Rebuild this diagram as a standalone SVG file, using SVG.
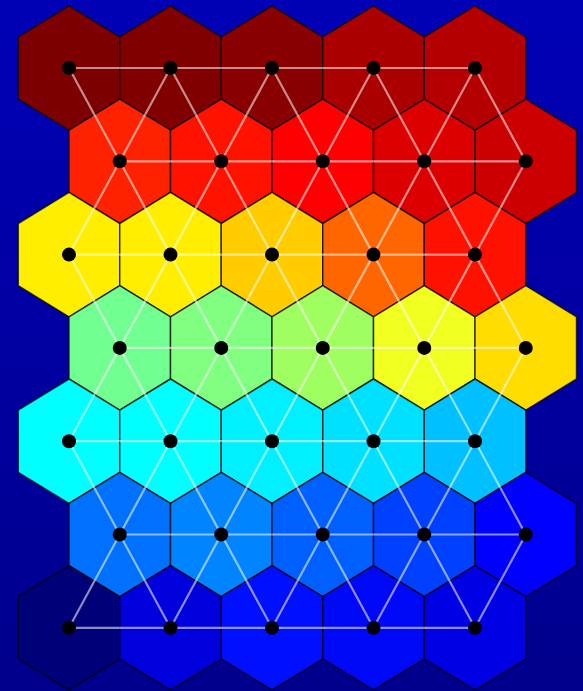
<svg xmlns="http://www.w3.org/2000/svg" xmlns:xlink="http://www.w3.org/1999/xlink" width="583" height="691" viewBox="0 0 583 691">
<defs>
<linearGradient id="bg" x1="0" y1="0" x2="0" y2="1">
<stop offset="0" stop-color="#0000b6"/>
<stop offset="1" stop-color="#00008c"/>
</linearGradient>
<polygon id="hex" points="0,-62.2 50.75,-31.1 50.75,31.1 0,62.2 -50.75,31.1 -50.75,-31.1"/>
<circle id="dot" r="7"/>
</defs>
<style>
.cell use{stroke:#000;stroke-opacity:0.7;stroke-width:1.5}
.conn path{fill:none;stroke:#fff;stroke-opacity:0.55;stroke-width:2.2}
.dots use{fill:#000}
</style>
<rect width="583" height="691" fill="url(#bg)"/>
<g id="cells">
<g id="n-0-0" class="cell"><use href="#hex" x="69" y="68" fill="#7c0000"/></g>
<g id="n-0-1" class="cell"><use href="#hex" x="170.5" y="68" fill="#800000"/></g>
<g id="n-0-2" class="cell"><use href="#hex" x="272" y="68" fill="#880000"/></g>
<g id="n-0-3" class="cell"><use href="#hex" x="373.5" y="68" fill="#aa0000"/></g>
<g id="n-0-4" class="cell"><use href="#hex" x="475" y="68" fill="#b40000"/></g>
<g id="n-1-0" class="cell"><use href="#hex" x="119.75" y="161.3" fill="#ff2200"/></g>
<g id="n-1-1" class="cell"><use href="#hex" x="221.25" y="161.3" fill="#ff1200"/></g>
<g id="n-1-2" class="cell"><use href="#hex" x="322.75" y="161.3" fill="#ff0000"/></g>
<g id="n-1-3" class="cell"><use href="#hex" x="424.25" y="161.3" fill="#dd0000"/></g>
<g id="n-1-4" class="cell"><use href="#hex" x="525.75" y="161.3" fill="#cc0000"/></g>
<g id="n-2-0" class="cell"><use href="#hex" x="69" y="254.6" fill="#ffee00"/></g>
<g id="n-2-1" class="cell"><use href="#hex" x="170.5" y="254.6" fill="#ffee00"/></g>
<g id="n-2-2" class="cell"><use href="#hex" x="272" y="254.6" fill="#ffcc00"/></g>
<g id="n-2-3" class="cell"><use href="#hex" x="373.5" y="254.6" fill="#ff6600"/></g>
<g id="n-2-4" class="cell"><use href="#hex" x="475" y="254.6" fill="#ff1100"/></g>
<g id="n-3-0" class="cell"><use href="#hex" x="119.75" y="347.9" fill="#70ff90"/></g>
<g id="n-3-1" class="cell"><use href="#hex" x="221.25" y="347.9" fill="#80ff80"/></g>
<g id="n-3-2" class="cell"><use href="#hex" x="322.75" y="347.9" fill="#a0ff60"/></g>
<g id="n-3-3" class="cell"><use href="#hex" x="424.25" y="347.9" fill="#f0ff20"/></g>
<g id="n-3-4" class="cell"><use href="#hex" x="525.75" y="347.9" fill="#ffdd00"/></g>
<g id="n-4-0" class="cell"><use href="#hex" x="69" y="441.2" fill="#00ffff"/></g>
<g id="n-4-1" class="cell"><use href="#hex" x="170.5" y="441.2" fill="#00ffff"/></g>
<g id="n-4-2" class="cell"><use href="#hex" x="272" y="441.2" fill="#00f0ff"/></g>
<g id="n-4-3" class="cell"><use href="#hex" x="373.5" y="441.2" fill="#00e0ff"/></g>
<g id="n-4-4" class="cell"><use href="#hex" x="475" y="441.2" fill="#00c0ff"/></g>
<g id="n-5-0" class="cell"><use href="#hex" x="119.75" y="534.5" fill="#0070ff"/></g>
<g id="n-5-1" class="cell"><use href="#hex" x="221.25" y="534.5" fill="#0084ff"/></g>
<g id="n-5-2" class="cell"><use href="#hex" x="322.75" y="534.5" fill="#0060ff"/></g>
<g id="n-5-3" class="cell"><use href="#hex" x="424.25" y="534.5" fill="#0040ff"/></g>
<g id="n-5-4" class="cell"><use href="#hex" x="525.75" y="534.5" fill="#0000ff"/></g>
<g id="n-6-0" class="cell"><use href="#hex" x="69" y="627.8" fill="#000078"/></g>
<g id="n-6-1" class="cell"><use href="#hex" x="170.5" y="627.8" fill="#0000dc"/></g>
<g id="n-6-2" class="cell"><use href="#hex" x="272" y="627.8" fill="#0010ff"/></g>
<g id="n-6-3" class="cell"><use href="#hex" x="373.5" y="627.8" fill="#0008f8"/></g>
<g id="n-6-4" class="cell"><use href="#hex" x="475" y="627.8" fill="#0000e4"/></g>
</g>
<g id="connectors" class="conn">
<path d="M69 68H475M119.75 161.3H525.75M69 254.6H475M119.75 347.9H525.75M69 441.2H475M119.75 534.5H525.75M69 627.8H475"/>
<path d="M69 68L119.75 161.3M170.5 68L119.75 161.3M170.5 68L221.25 161.3M272 68L221.25 161.3M272 68L322.75 161.3M373.5 68L322.75 161.3M373.5 68L424.25 161.3M475 68L424.25 161.3M475 68L525.75 161.3"/>
<path d="M69 254.6L119.75 161.3M170.5 254.6L119.75 161.3M170.5 254.6L221.25 161.3M272 254.6L221.25 161.3M272 254.6L322.75 161.3M373.5 254.6L322.75 161.3M373.5 254.6L424.25 161.3M475 254.6L424.25 161.3M475 254.6L525.75 161.3"/>
<path d="M69 254.6L119.75 347.9M170.5 254.6L119.75 347.9M170.5 254.6L221.25 347.9M272 254.6L221.25 347.9M272 254.6L322.75 347.9M373.5 254.6L322.75 347.9M373.5 254.6L424.25 347.9M475 254.6L424.25 347.9M475 254.6L525.75 347.9"/>
<path d="M69 441.2L119.75 347.9M170.5 441.2L119.75 347.9M170.5 441.2L221.25 347.9M272 441.2L221.25 347.9M272 441.2L322.75 347.9M373.5 441.2L322.75 347.9M373.5 441.2L424.25 347.9M475 441.2L424.25 347.9M475 441.2L525.75 347.9"/>
<path d="M69 441.2L119.75 534.5M170.5 441.2L119.75 534.5M170.5 441.2L221.25 534.5M272 441.2L221.25 534.5M272 441.2L322.75 534.5M373.5 441.2L322.75 534.5M373.5 441.2L424.25 534.5M475 441.2L424.25 534.5M475 441.2L525.75 534.5"/>
<path d="M69 627.8L119.75 534.5M170.5 627.8L119.75 534.5M170.5 627.8L221.25 534.5M272 627.8L221.25 534.5M272 627.8L322.75 534.5M373.5 627.8L322.75 534.5M373.5 627.8L424.25 534.5M475 627.8L424.25 534.5M475 627.8L525.75 534.5"/>
</g>
<g id="node-dots" class="dots">
<use href="#dot" x="69" y="68"/><use href="#dot" x="170.5" y="68"/><use href="#dot" x="272" y="68"/><use href="#dot" x="373.5" y="68"/><use href="#dot" x="475" y="68"/>
<use href="#dot" x="119.75" y="161.3"/><use href="#dot" x="221.25" y="161.3"/><use href="#dot" x="322.75" y="161.3"/><use href="#dot" x="424.25" y="161.3"/><use href="#dot" x="525.75" y="161.3"/>
<use href="#dot" x="69" y="254.6"/><use href="#dot" x="170.5" y="254.6"/><use href="#dot" x="272" y="254.6"/><use href="#dot" x="373.5" y="254.6"/><use href="#dot" x="475" y="254.6"/>
<use href="#dot" x="119.75" y="347.9"/><use href="#dot" x="221.25" y="347.9"/><use href="#dot" x="322.75" y="347.9"/><use href="#dot" x="424.25" y="347.9"/><use href="#dot" x="525.75" y="347.9"/>
<use href="#dot" x="69" y="441.2"/><use href="#dot" x="170.5" y="441.2"/><use href="#dot" x="272" y="441.2"/><use href="#dot" x="373.5" y="441.2"/><use href="#dot" x="475" y="441.2"/>
<use href="#dot" x="119.75" y="534.5"/><use href="#dot" x="221.25" y="534.5"/><use href="#dot" x="322.75" y="534.5"/><use href="#dot" x="424.25" y="534.5"/><use href="#dot" x="525.75" y="534.5"/>
<use href="#dot" x="69" y="627.8"/><use href="#dot" x="170.5" y="627.8"/><use href="#dot" x="272" y="627.8"/><use href="#dot" x="373.5" y="627.8"/><use href="#dot" x="475" y="627.8"/>
</g>
</svg>
